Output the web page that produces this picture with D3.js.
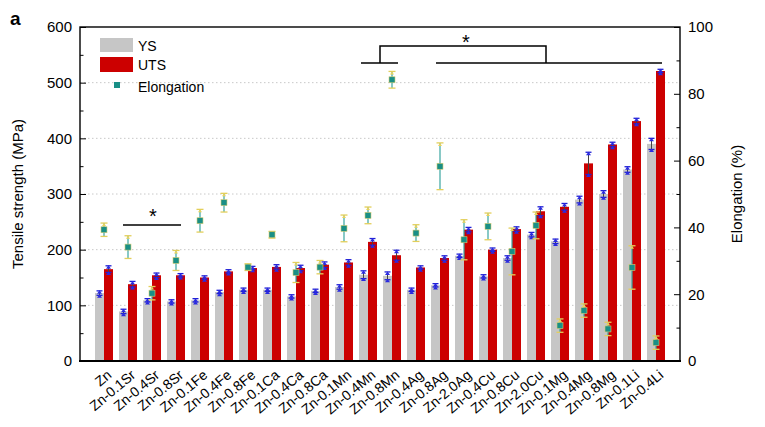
<!DOCTYPE html>
<html><head><meta charset="utf-8">
<script src="https://cdn.jsdelivr.net/npm/d3@7/dist/d3.min.js"></script>
<style>body{margin:0;background:#fff}svg{display:block}text{font-family:"Liberation Sans",Arial,sans-serif}</style>
</head><body><svg id="c" width="765" height="427"></svg>
<script>
const categories = ["Zn","Zn-0.1Sr","Zn-0.4Sr","Zn-0.8Sr","Zn-0.1Fe","Zn-0.4Fe","Zn-0.8Fe","Zn-0.1Ca","Zn-0.4Ca","Zn-0.8Ca","Zn-0.1Mn","Zn-0.4Mn","Zn-0.8Mn","Zn-0.4Ag","Zn-0.8Ag","Zn-2.0Ag","Zn-0.4Cu","Zn-0.8Cu","Zn-2.0Cu","Zn-0.1Mg","Zn-0.4Mg","Zn-0.8Mg","Zn-0.1Li","Zn-0.4Li"];
const ys = [122,89,109,107,109,124,128,128,116,126,133,155,153,128,136,189,152,185,227,215,290,300,344,390];
const ysErr = [4,4,3,3,3,3,3,3,3,3,4,7,7,3,3,3,3,4,4,4,6,6,5,10];
const uts = [165,138,154,154,150,161,167,169,167,173,177,214,190,168,185,236,200,237,269,277,355,389,431,521];
const utsErr = [6,5,4,3,3,3,3,4,5,5,5,6,9,3,4,4,3,4,8,6,20,4,5,3];
const elong = [39.3,34.1,20.3,30.1,42.0,47.4,28.1,37.8,26.5,28.1,39.7,43.6,84.2,38.3,58.3,36.3,40.3,32.8,40.6,10.6,15.1,9.6,28.0,5.5];
const elongErr = [2,3.4,2,3,3.4,2.8,1,1,3,2,4,2.5,2.5,2.5,7,6,4,7,4,2,2,2,6.5,2];
const leftTicks = [0,100,200,300,400,500,600];
const rightTicks = [0,20,40,60,80,100];

const svg = d3.select("#c");
const L=80,R=680,T=27,B=361;
const x = d3.scaleBand().domain(categories).range([L,R]).paddingInner(0).paddingOuter(0.5);
const y = d3.scaleLinear().domain([0,600]).range([B,T]);
const y2 = d3.scaleLinear().domain([0,100]).range([B,T]);
const cx = c => x(c)+x.bandwidth()/2;
const bw = 9;

// grid
svg.append("g").selectAll("line").data(leftTicks.filter(d=>d>0&&d<600)).join("line")
  .attr("x1",L).attr("x2",R).attr("y1",d=>y(d)).attr("y2",d=>y(d))
  .attr("stroke","#c8c8c8").attr("stroke-width",1).attr("stroke-dasharray","1.5,2.5");

// bars
const g = svg.append("g");
g.selectAll(".ys").data(categories).join("rect")
  .attr("x",c=>cx(c)-bw).attr("width",bw).attr("y",(c,i)=>y(ys[i])).attr("height",(c,i)=>B-y(ys[i]))
  .attr("fill","#c6c6c6");
g.selectAll(".uts").data(categories).join("rect")
  .attr("x",c=>cx(c)).attr("width",bw).attr("y",(c,i)=>y(uts[i])).attr("height",(c,i)=>B-y(uts[i]))
  .attr("fill","#cc0000");

// bar error bars
function barErr(xc, v, e){
  const eg = svg.append("g");
  eg.append("line").attr("x1",xc).attr("x2",xc).attr("y1",y(v+e)).attr("y2",y(v-e)).attr("stroke","#444").attr("stroke-width",1);
  [v+e, v-e].forEach(t=>{
    eg.append("line").attr("x1",xc-3).attr("x2",xc+3).attr("y1",y(t)).attr("y2",y(t)).attr("stroke","#1f1fd6").attr("stroke-width",1.3);
  });
  eg.append("path").attr("d",`M${xc-2.5},${y(v+e)+3}L${xc+2.5},${y(v+e)+3}L${xc},${y(v+e)-0.5}Z`).attr("fill","#2a2ae0");
  eg.append("path").attr("d",`M${xc-2.5},${y(v-e)+2.5}L${xc+2.5},${y(v-e)+2.5}L${xc},${y(v-e)-1}Z`).attr("fill","#2a2ae0");
}
categories.forEach((c,i)=>{
  barErr(cx(c)-bw/2, ys[i], ysErr[i]);
  barErr(cx(c)+bw/2, uts[i], utsErr[i]);
});

// elongation
categories.forEach((c,i)=>{
  const xc=cx(c), v=elong[i], e=elongErr[i];
  const eg=svg.append("g");
  eg.append("line").attr("x1",xc).attr("x2",xc).attr("y1",y2(v+e)).attr("y2",y2(v-e)).attr("stroke","#3aa5a0").attr("stroke-width",1.2);
  [v+e,v-e].forEach(t=>eg.append("line").attr("x1",xc-3.5).attr("x2",xc+3.5).attr("y1",y2(t)).attr("y2",y2(t)).attr("stroke","#e3cf5a").attr("stroke-width",1.3));
  eg.append("path").attr("d",`M${xc-2},${y2(v+e)+3}L${xc+2},${y2(v+e)+3}L${xc},${y2(v+e)}Z`).attr("fill","#e8d35e");
  eg.append("rect").attr("x",xc-3).attr("y",y2(v)-3).attr("width",6).attr("height",6).attr("fill","#198f86").attr("stroke","#d8cc70").attr("stroke-width",0.6);
});

// frame
svg.append("rect").attr("x",L).attr("y",T).attr("width",R-L).attr("height",B-T).attr("fill","none").attr("stroke","#000").attr("stroke-width",1.4);
svg.append("line").attr("x1",L-1).attr("x2",R+1).attr("y1",B).attr("y2",B).attr("stroke","#000").attr("stroke-width",2.2);

// left axis
const la = d3.axisLeft(y).tickValues(leftTicks).tickSize(-6).tickPadding(8);
const lg = svg.append("g").attr("transform",`translate(${L},0)`).call(la);
lg.select(".domain").remove();
lg.selectAll("text").attr("font-size",15).attr("fill","#000");
svg.append("g").attr("transform",`translate(${L},0)`).call(d3.axisLeft(y).tickValues(d3.range(50,600,100)).tickSize(-3.5).tickFormat("")).select(".domain").remove();

// right axis
const ra = d3.axisRight(y2).tickValues(rightTicks).tickSize(-6).tickPadding(8);
const rg = svg.append("g").attr("transform",`translate(${R},0)`).call(ra);
rg.select(".domain").remove();
rg.selectAll("text").attr("font-size",15).attr("fill","#000");
svg.append("g").attr("transform",`translate(${R},0)`).call(d3.axisRight(y2).tickValues(d3.range(10,100,20)).tickSize(-3.5).tickFormat("")).select(".domain").remove();

// x labels
svg.append("g").selectAll("text").data(categories).join("text")
  .attr("transform",c=>`translate(${cx(c)+3},${B+9}) rotate(-40)`)
  .attr("text-anchor","end").attr("dy","0.6em").attr("font-size",14).text(c=>c);

// axis titles
svg.append("text").attr("transform",`translate(23,${(T+B)/2}) rotate(-90)`).attr("text-anchor","middle").attr("font-size",15).text("Tensile strength (MPa)");
svg.append("text").attr("transform",`translate(742,${(T+B)/2}) rotate(-90)`).attr("text-anchor","middle").attr("font-size",15).text("Elongation (%)");
svg.append("text").attr("x",10).attr("y",25).attr("font-size",19).attr("font-weight","bold").text("a");

// legend
svg.append("rect").attr("x",100).attr("y",38).attr("width",33).attr("height",14).attr("fill","#c6c6c6");
svg.append("rect").attr("x",100).attr("y",57).attr("width",33).attr("height",15).attr("fill","#cc0000");
svg.append("rect").attr("x",114).attr("y",82).attr("width",6).attr("height",6).attr("fill","#198f86");
svg.append("text").attr("x",138).attr("y",51).attr("font-size",14).text("YS");
svg.append("text").attr("x",138).attr("y",70).attr("font-size",14).text("UTS");
svg.append("text").attr("x",138).attr("y",92).attr("font-size",14).text("Elongation");

// significance annotations
const sig = svg.append("g").attr("stroke","#000").attr("stroke-width",1.5).attr("fill","none");
sig.append("line").attr("x1",(cx(categories[1])+cx(categories[0]))/2+7).attr("x2",cx(categories[3])+5).attr("y1",225).attr("y2",225);
sig.append("line").attr("x1",cx(categories[11])-7).attr("x2",cx(categories[12])+6).attr("y1",63).attr("y2",63);
sig.append("line").attr("x1",cx(categories[14])-4).attr("x2",cx(categories[23])+6).attr("y1",63).attr("y2",63);
sig.append("path").attr("d",`M${cx(categories[11])+12},63V46H${cx(categories[18])+10}V63`);
svg.append("text").attr("x",153).attr("y",223).attr("text-anchor","middle").attr("font-size",20).text("*");
svg.append("text").attr("x",466).attr("y",49).attr("text-anchor","middle").attr("font-size",20).text("*");
</script></body></html>
